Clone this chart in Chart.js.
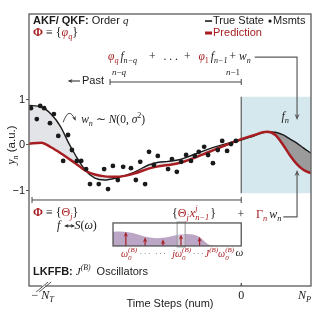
<!DOCTYPE html>
<html><head><meta charset="utf-8">
<script src="https://cdn.jsdelivr.net/npm/chart.js@4.4.0/dist/chart.umd.min.js"></script>
<style>html,body{margin:0;padding:0;background:#fff;}</style>
</head><body>
<canvas id="c" width="323" height="319" style="width:323px;height:319px;display:block"></canvas>
<script>
// ---- data ----
const timeSteps = [-43.5,-41,-39,-37,-35.5,-34,-32,-30,-28,-25.5,-22,-19,-17,-15,-12.5,-10,-7,-4.3,-1.7,0,2.4,5.3,7,8.6,10,11.4,12.8,14.3];
const trueState = [0.87,0.84,0.68,0.40,0.07,-0.22,-0.55,-0.73,-0.77,-0.72,-0.60,-0.44,-0.38,-0.36,-0.32,-0.22,-0.10,-0.01,0.07,0.11,0.19,0.29,0.28,0.22,0.13,0.04,-0.07,-0.18];
const prediction = [0.03,0.05,-0.05,-0.18,-0.29,-0.40,-0.56,-0.65,-0.69,-0.70,-0.63,-0.52,-0.47,-0.44,-0.39,-0.30,-0.17,-0.05,0.06,0.13,0.21,0.29,0.22,0.0,-0.23,-0.42,-0.55,-0.62];
const msmtX = [-43.1,-41.9,-41.2,-40.4,-39.2,-38.4,-37.5,-36.5,-35.5,-34.7,-33.7,-32.8,-31.8,-31.0,-29.2,-28.1,-27.3,-26.3,-25.3,-24.2,-22.6,-21.6,-20.7,-19.7,-18.9,-17.9,-17.1,-15.0,-14.2,-13.2,-12.3,-11.3,-10.3,-9.5,-8.7,-7.6,-6.8,-5.8,-4.8,-3.9,-2.9,-2.1,-1.1];
const msmtY = [0.81,0.57,0.86,0.81,0.48,0.68,0.20,-0.35,0.22,-0.11,-0.35,-0.35,-0.53,-0.86,-0.86,-0.53,-0.97,-0.46,-0.77,-0.48,-0.51,-0.77,-0.37,-0.86,-0.15,-0.44,-0.24,-0.53,-0.31,-0.59,-0.37,-0.22,-0.35,-0.24,-0.15,-0.04,-0.22,-0.40,-0.11,0.09,-0.13,0.02,0.09];
const yTicks = [-1,0,1];
const xTickValues = [-40.7,0,13];
const xTickNames = ['−N_T','0','N_P'];
// spectrum inset (relative units)
const spectrumU = [0,0.08,0.156,0.22,0.289,0.35,0.422,0.49,0.547,0.61,0.656,0.70,0.73,0.76,0.80,1];
const spectrumV = [0.62,0.63,0.57,0.45,0.36,0.33,0.38,0.47,0.52,0.51,0.47,0.28,0.10,0.02,0,0];
const oscU = [0.10,0.25,0.39,0.53,0.675];
const oscV = [0.62,0.38,0.29,0.50,0.40];

const RED = '#a71d21', INK = '#1a1a1a', GRAY = '#5c5c5c';
const FS = '"Liberation Sans", Arial, sans-serif';
const FM = '"Liberation Serif", "Times New Roman", serif';

const pts = (xs, ys) => xs.map((x, i) => ({x, y: ys[i]}));
const leftI = timeSteps.map((x, i) => x <= 0 ? i : -1).filter(i => i >= 0);
const rightI = timeSteps.map((x, i) => x >= 0 ? i : -1).filter(i => i >= 0);
const sel = (arr, idx) => idx.map(i => arr[i]);

// rich text helpers
const M = (t, c) => ({t, f: 'm', c});
const R = (t, c) => ({t, f: 'mr', c});
const MB = (t, c) => ({t, f: 'mb', c});
const S = (t, c) => ({t, f: 's', c});
const SB = (t, c) => ({t, f: 'sb', c});
const sub = (t, c, f) => ({t, f: f || 'm', c, k: 0.7, dy: 0.32});
const sup = (t, c, f) => ({t, f: f || 'm', c, k: 0.7, dy: -0.4});
const st = (a, b, c) => ({stack: [a, b], f: 'm', c, k: 0.7});
const gap = (w) => ({gap: w});
function segFont(g, z) {
  const fam = g.f[0] === 's' ? FS : FM;
  const b = (g.f === 'sb' || g.f === 'mb') ? 'bold ' : '';
  const it = g.f === 'm' ? 'italic ' : '';
  return it + b + z + 'px ' + fam;
}
function rich(ctx, x, y, segs, base, align) {
  ctx.save(); ctx.textBaseline = 'middle'; ctx.textAlign = 'left';
  const w = segs.map(g => {
    if (g.gap !== undefined) return g.gap;
    ctx.font = segFont(g, base * (g.k || 1));
    if (g.stack) return Math.max(ctx.measureText(g.stack[0]).width, ctx.measureText(g.stack[1]).width);
    return ctx.measureText(g.t).width;
  });
  const W = w.reduce((a, b) => a + b, 0);
  let cx = align === 'center' ? x - W / 2 : align === 'right' ? x - W : x;
  segs.forEach((g, i) => {
    if (g.gap === undefined) {
      ctx.font = segFont(g, base * (g.k || 1));
      ctx.fillStyle = g.c || INK;
      if (g.stack) {
        ctx.fillText(g.stack[0], cx, y - 0.4 * base);
        ctx.fillText(g.stack[1], cx, y + 0.34 * base);
      } else ctx.fillText(g.t, cx, y + (g.dy || 0) * base);
    }
    cx += w[i];
  });
  ctx.restore();
  return cx;
}
function head(ctx, x, y, ang, s, color) {
  ctx.save(); ctx.translate(x, y); ctx.rotate(ang);
  ctx.beginPath(); ctx.moveTo(0, 0); ctx.lineTo(-s, -s * 0.42); ctx.lineTo(-s * 0.7, 0); ctx.lineTo(-s, s * 0.42); ctx.closePath();
  ctx.fillStyle = color; ctx.fill(); ctx.restore();
}
function line(ctx, pts, color, w) {
  ctx.save(); ctx.beginPath(); ctx.moveTo(pts[0][0], pts[0][1]);
  for (let i = 1; i < pts.length; i++) ctx.lineTo(pts[i][0], pts[i][1]);
  ctx.strokeStyle = color; ctx.lineWidth = w; ctx.stroke(); ctx.restore();
}

const background = {
  id: 'background',
  beforeDatasetsDraw(chart) {
    const ctx = chart.ctx, xs = chart.scales.x, ys = chart.scales.y;
    const x0 = xs.getPixelForValue(0), x1 = xs.getPixelForValue(xs.max);
    const yt = ys.getPixelForValue(1.06), yb = ys.getPixelForValue(-1.06);
    ctx.save();
    ctx.fillStyle = '#d5e8ee';
    ctx.fillRect(x0, yt, x1 - x0, yb - yt);
    ctx.restore();
    line(ctx, [[x0, yt], [x0, yb]], GRAY, 1.2);
  }
};

const annotations = {
  id: 'annotations',
  afterDatasetsDraw(chart) {
    const ctx = chart.ctx, xs = chart.scales.x, ys = chart.scales.y, ca = chart.chartArea;
    const X = v => xs.getPixelForValue(v), Y = v => ys.getPixelForValue(v);
    const P = (x, y) => [X(x), Y(y)];
    // frame
    ctx.save(); ctx.strokeStyle = '#666'; ctx.lineWidth = 1.4;
    ctx.strokeRect(ca.left, ca.top, ca.right - ca.left, ca.bottom - ca.top); ctx.restore();

    // header
    rich(ctx, ...P(-42.67, 2.725), [SB('AKF/ QKF:'), S(' Order '), M('q')], 11);
    rich(ctx, ...P(-42.67, 2.462), [MB('Φ', RED), R(' ≡ {'), M('φ', RED), sub('q', RED), R('}')], 12);
    // legend
    line(ctx, [P(-7.42, 2.725), P(-5.98, 2.725)], INK, 1.6);
    rich(ctx, ...P(-5.78, 2.725), [S('True State')], 11);
    ctx.save(); ctx.beginPath(); ctx.arc(...P(5.9, 2.725), 1.6, 0, Math.PI * 2); ctx.fillStyle = INK; ctx.fill(); ctx.restore();
    rich(ctx, ...P(6.52, 2.725), [S('Msmts')], 11);
    line(ctx, [P(-7.42, 2.462), P(-5.98, 2.462)], RED, 3);
    rich(ctx, ...P(-5.78, 2.462), [S('Prediction', RED)], 11);

    // AR equation
    const eqY = 1.934;
    const eqEnd = rich(ctx, ...P(-27.3, eqY), [M('φ', RED), sub('q', RED), gap(2), M('f'), sub('n−q'), gap(12), R('+'), gap(8), R('. . .'), gap(6), R('+'), gap(8), M('φ', RED), sub('1', RED, 'mr'), gap(2), M('f'), sub('n−1'), gap(2), R('+'), gap(3), M('w'), sub('n')], 11.5);
    const ax = X(11.44);
    line(ctx, [[eqEnd + 4, Y(eqY)], [ax, Y(eqY)], [ax, Y(0.58)]], GRAY, 1.2);
    head(ctx, ax, Y(0.549), Math.PI / 2, 6, GRAY);
    rich(ctx, ...P(9.0, 0.615), [M('f'), sub('n')], 12, 'center');

    // past bracket
    rich(ctx, ...P(-25.05, 1.58), [M('n'), R('−'), M('q')], 9, 'center');
    rich(ctx, ...P(-1.68, 1.58), [M('n'), R('−'), R('1')], 9, 'center');
    const by = Y(1.385);
    line(ctx, [[X(-26.89), by], [X(0), by]], '#444', 1);
    line(ctx, [[X(-26.89), by - 3], [X(-26.89), by + 3]], '#444', 1);
    line(ctx, [[X(0), by - 3], [X(0), by + 3]], '#444', 1);
    line(ctx, [P(-33.04, 1.407), P(-35.0, 1.407)], '#333', 1.1);
    head(ctx, X(-35.6), Y(1.407), Math.PI, 5, '#333');
    rich(ctx, ...P(-32.63, 1.407), [S('Past')], 11);

    // noise annotation
    ctx.save(); ctx.beginPath();
    const c0 = P(-36.5, 0.50), c1 = P(-35.3, 0.86), c2 = P(-34.1, 0.56);
    ctx.moveTo(...c0); ctx.quadraticCurveTo(c1[0], c1[1], c2[0], c2[1]);
    ctx.strokeStyle = '#333'; ctx.lineWidth = 0.9; ctx.stroke(); ctx.restore();
    head(ctx, c2[0] + 0.8, c2[1] + 1.2, Math.atan2(c2[1] - c1[1], c2[0] - c1[0]), 4.5, '#333');
    rich(ctx, ...P(-32.8, 0.54), [M('w'), sub('n'), R(' ∼ '), M('N'), R('(0, '), M('σ'), sup('2', INK, 'mr'), R(')')], 11.5);

    // bottom bracket
    const bb = Y(-1.209);
    line(ctx, [[X(-42.88), bb], [X(0), bb]], '#444', 1);
    line(ctx, [[X(-42.88), bb - 3], [X(-42.88), bb + 3]], '#444', 1);
    line(ctx, [[X(0), bb - 3], [X(0), bb + 3]], '#444', 1);
    rich(ctx, ...P(-42.67, -1.495), [MB('Φ', RED), R(' ≡ {'), R('Θ', RED), sub('j', RED), R('}')], 12);
    rich(ctx, ...P(-14.18, -1.516), [R('{'), R('Θ', RED), sub('j', RED), gap(1), M('x', RED), st('j', 'n−1', RED), gap(1), R('}')], 12);
    rich(ctx, ...P(-0.05, -1.538), [R('+')], 12, 'center');
    const gEnd = rich(ctx, ...P(3.03, -1.538), [R('Γ', RED), sub('n', RED), gap(2), M('w'), sub('n')], 12);
    line(ctx, [[gEnd + 2, Y(-1.58)], [ax, Y(-1.58)], [ax, Y(-0.58)]], GRAY, 1.2);
    head(ctx, ax, Y(-0.549), -Math.PI / 2, 6, GRAY);

    // f <-> S(omega)
    rich(ctx, ...P(-37.75, -1.78), [M('f'), gap(14), M('S'), R('('), M('ω'), R(')')], 12);
    const fy = Y(-1.78), fx0 = X(-37.75) + 7, fx1 = fx0 + 11;
    line(ctx, [[fx0 + 2, fy], [fx1 - 2, fy]], '#222', 1.2);
    head(ctx, fx0, fy, Math.PI, 4.5, '#222');
    head(ctx, fx1, fy, 0, 4.5, '#222');

    // spectrum inset
    const u0 = -26.28, u1 = 0, v0 = -2.22, v1 = -1.714;
    const IP = (u, v) => [X(u0 + u * (u1 - u0)), Y(v0 + v * (v1 - v0))];
    ctx.save();
    ctx.beginPath();
    const sp = spectrumU.map((u, i) => IP(u, spectrumV[i]));
    ctx.moveTo(...IP(0, 0)); ctx.lineTo(...sp[0]);
    for (let i = 1; i < sp.length; i++) {
      const mx = (sp[i - 1][0] + sp[i][0]) / 2, my = (sp[i - 1][1] + sp[i][1]) / 2;
      ctx.quadraticCurveTo(sp[i - 1][0], sp[i - 1][1], mx, my);
    }
    ctx.lineTo(...sp[sp.length - 1]); ctx.lineTo(...IP(1, 0)); ctx.closePath();
    ctx.fillStyle = '#bba6c6'; ctx.fill();
    ctx.restore();
    // highlight
    const h0 = IP(0.50, -0.04), h1 = IP(0.5625, 1.04);
    ctx.save(); ctx.fillStyle = 'rgba(255,255,255,0.35)'; ctx.strokeStyle = '#999'; ctx.lineWidth = 1;
    ctx.fillRect(h0[0], h1[1], h1[0] - h0[0], h0[1] - h1[1]);
    ctx.strokeRect(h0[0], h1[1], h1[0] - h0[0], h0[1] - h1[1]); ctx.restore();
    // oscillator arrows
    oscU.forEach((u, i) => {
      const b = IP(u, 0), t = IP(u, oscV[i]);
      line(ctx, [b, [t[0], t[1] + 3]], RED, 1.2);
      head(ctx, t[0], t[1], -Math.PI / 2, 5, RED);
    });
    const ib0 = IP(0, 0), ib1 = IP(1, 1);
    ctx.save(); ctx.strokeStyle = '#555'; ctx.lineWidth = 1.3;
    ctx.strokeRect(ib0[0], ib1[1], ib1[0] - ib0[0], ib0[1] - ib1[1]); ctx.restore();
    // labels under inset
    const lv = -0.36;
    rich(ctx, ...IP(0.125, lv), [M('ω', RED), st('(B)', '0', RED)], 10, 'center');
    rich(ctx, ...IP(0.25, lv), [R('· · ·')], 7, 'center');
    rich(ctx, ...IP(0.37, lv), [R('· · ·')], 7, 'center');
    rich(ctx, ...IP(0.535, lv), [M('j', RED), M('ω', RED), st('(B)', '0', RED)], 10, 'center');
    rich(ctx, ...IP(0.665, lv), [R('· · ·')], 7, 'center');
    rich(ctx, ...IP(0.83, lv), [M('J', RED), sup('(B)', RED), M('ω', RED), st('(B)', '0', RED)], 10, 'center');
    rich(ctx, ...IP(0.985, lv + 0.05), [M('ω')], 11, 'center');

    rich(ctx, ...P(-42.67, -2.791), [SB('LKFFB:'), S(' '), M('J'), sup('(B)'), S('  Oscillators')], 11);

    // x tick labels
    const ty = ca.bottom + 10;
    xTickValues.forEach((v, i) => {
      const name = xTickNames[i];
      let segs;
      if (name.includes('_')) {
        const [a, b] = name.split('_');
        segs = a.startsWith('−') ? [R('−'), gap(3), M(a.slice(1)), sub(b)] : [M(a), sub(b)];
      } else segs = [R(name)];
      rich(ctx, X(v), ty, segs, 12, 'center');
    });
    // axis break mark
    const bx = X(-40.4), yb = ca.bottom;
    ctx.save(); ctx.fillStyle = '#fff'; ctx.fillRect(bx - 2, yb - 1.5, 3, 3); ctx.restore();
    line(ctx, [[bx - 8, yb + 6], [bx + 4, yb - 4]], '#444', 0.9);
    line(ctx, [[bx - 5, yb + 6], [bx + 7, yb - 4]], '#444', 0.9);
    // inward tick at 0
    line(ctx, [[X(0), yb], [X(0), yb - 3]], '#222', 1);

    // y axis title
    ctx.save(); ctx.translate(ca.left - 17, Y(0)); ctx.rotate(-Math.PI / 2);
    rich(ctx, 0, 0, [M('y'), sub('n'), S(' (a.u.)')], 11.5, 'center');
    ctx.restore();
  }
};

const lineBase = {pointRadius: 0, cubicInterpolationMode: 'monotone', borderColor: 'rgba(0,0,0,0)', borderWidth: 0};
new Chart(document.getElementById('c'), {
  type: 'line',
  data: {
    datasets: [
      {label: 'Msmts', data: pts(msmtX, msmtY), showLine: false, pointRadius: 2.4, pointBackgroundColor: INK, pointBorderWidth: 0, order: 0},
      {...lineBase, label: 'Prediction', data: pts(timeSteps, prediction), borderColor: RED, borderWidth: 2.5, fill: false, order: 1},
      {...lineBase, label: 'True State', data: pts(timeSteps, trueState), borderColor: INK, borderWidth: 1.4, fill: false, order: 2},
      {...lineBase, label: 'gapPast', data: pts(sel(timeSteps, leftI), sel(trueState, leftI)), fill: '+1', backgroundColor: '#e3e4e7', order: 3},
      {...lineBase, label: 'gapPastBase', data: pts(sel(timeSteps, leftI), sel(prediction, leftI)), fill: false, order: 4},
      {...lineBase, label: 'gapFuture', data: pts(sel(timeSteps, rightI), sel(trueState, rightI)), fill: '+1', backgroundColor: '#9b9b9b', order: 5},
      {...lineBase, label: 'gapFutureBase', data: pts(sel(timeSteps, rightI), sel(prediction, rightI)), fill: false, order: 6}
    ]
  },
  options: {
    responsive: false, animation: false, devicePixelRatio: 1,
    layout: {padding: {left: 0, top: 14, right: 12, bottom: 0}},
    plugins: {legend: {display: false}, tooltip: {enabled: false}},
    scales: {
      x: {
        type: 'linear', min: -43.5, max: 14.3,
        grid: {display: false}, border: {display: false},
        ticks: {display: false},
        afterBuildTicks: s => { s.ticks = xTickValues.map(v => ({value: v})); },
        afterFit: s => { s.height = 33; },
        title: {display: true, text: 'Time Steps (num)', color: INK, font: {family: FS, size: 11}, padding: {top: 0, bottom: 8}}
      },
      y: {
        min: -3.1, max: 2.88,
        grid: {display: true, drawOnChartArea: false, drawTicks: true, tickLength: 3, color: '#555'},
        border: {display: false},
        ticks: {color: INK, padding: 1, font: {family: FS, size: 11}, callback: v => v < 0 ? '−' + Math.abs(v) : String(v)},
        afterBuildTicks: s => { s.ticks = yTicks.map(v => ({value: v})); },
        afterFit: s => { s.width = 29; }
      }
    }
  },
  plugins: [background, annotations]
});
</script>
</body></html>
